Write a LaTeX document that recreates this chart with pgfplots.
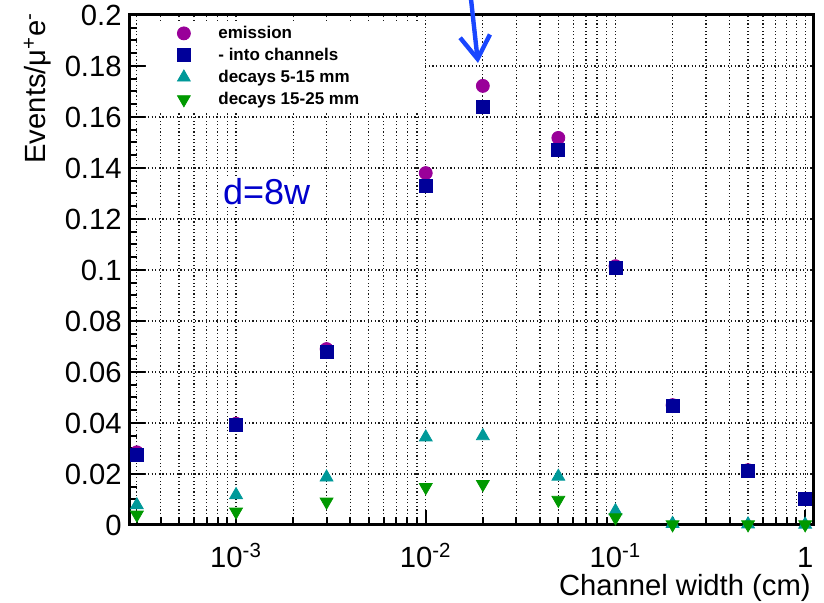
\documentclass[border=0pt]{standalone}
\usepackage{fontspec}
\setmainfont{Liberation Sans}
\usepackage{pgfplots}
\pgfplotsset{compat=1.18}
\usetikzlibrary{arrows.meta}
\definecolor{cem}{RGB}{153,0,153}
\definecolor{cch}{RGB}{0,0,153}
\definecolor{cdone}{RGB}{0,153,153}
\definecolor{cdtwo}{RGB}{0,153,0}
\definecolor{carrow}{RGB}{25,70,255}
\definecolor{ctext}{RGB}{0,0,204}
\begin{document}
\begin{tikzpicture}
\path[use as bounding box] (-65pt,-39pt) rectangle (347pt,262.5pt);
\begin{axis}[
  at={(0,0)}, anchor=south west,
  scale only axis, width=341.5pt, height=255pt,
  xmode=log, xmin=2.76e-4, xmax=1.1, ymin=0, ymax=0.2,
  clip=false,
  axis line style={line width=1.5pt},
  tick style={line width=1pt, black},
  tick align=inside, xtick pos=bottom, ytick pos=left,
  major tick length=7.5pt, minor tick length=3.75pt,
  xtick={1e-3,1e-2,1e-1,1},
  xticklabels={10\textsuperscript{-3},10\textsuperscript{-2},10\textsuperscript{-1},1},
  minor xtick={3e-4,4e-4,5e-4,6e-4,7e-4,8e-4,9e-4,2e-3,3e-3,4e-3,5e-3,6e-3,7e-3,8e-3,9e-3,2e-2,3e-2,4e-2,5e-2,6e-2,7e-2,8e-2,9e-2,0.2,0.3,0.4,0.5,0.6,0.7,0.8,0.9},
  ytick={0,0.02,0.04,0.06,0.08,0.1,0.12,0.14,0.16,0.18,0.2},
  yticklabels={0,0.02,0.04,0.06,0.08,0.1,0.12,0.14,0.16,0.18,0.2},
  minor y tick num=3,
  xmajorgrids, xminorgrids, ymajorgrids,
  major grid style={black!90, line width=0.6pt, dash pattern=on 0.6pt off 1.2pt},
  minor grid style={black!90, line width=0.6pt, dash pattern=on 0.6pt off 1.2pt},
  tick label style={font=\fontsize{14.6}{17}\selectfont},
  xticklabel style={anchor=base, inner sep=0pt, yshift=-21.5pt},
  yticklabel style={anchor=east, inner sep=0pt, xshift=-4pt},
  label style={font=\fontsize{14.6}{17}\selectfont},
  xlabel={Channel width (cm)},
  ylabel={Events/μ\textsuperscript{+}e\textsuperscript{-}},
  xlabel style={at={(axis description cs:0.9971,-0.1392)}, anchor=base east, inner sep=0pt},
  ylabel style={at={(axis description cs:-0.123,1.006)}, anchor=base east, inner sep=0pt},
  legend style={at={(rel axis cs:0.0688,0.9863)}, anchor=north west, draw=none, fill=none,
    font=\fontsize{8.5}{10}\selectfont\bfseries, inner sep=0pt, row sep=0pt,
    nodes={inner sep=0pt, text height=8pt, text depth=3pt},
    /tikz/every odd column/.append style={column sep=14pt}},
  legend cell align=left,
]
\fill[white] (rel axis cs:0.0234,0.8078) rectangle (rel axis cs:0.432,0.9843);
\addplot[only marks, mark=*, mark size=3.25pt, color=cem] coordinates {
  (3e-4,0.0285) (1e-3,0.0397) (3e-3,0.069) (1e-2,0.138) (2e-2,0.1722)
  (5e-2,0.1518) (1e-1,0.1015) (0.2,0.047) (0.5,0.0215) (1,0.0103)};
\addlegendentry{emission}
\addplot[only marks, mark=square*, mark size=3.25pt, color=cch] coordinates {
  (3e-4,0.0275) (1e-3,0.0392) (3e-3,0.0678) (1e-2,0.133) (2e-2,0.164)
  (5e-2,0.147) (1e-1,0.101) (0.2,0.0467) (0.5,0.0212) (1,0.0101)};
\addlegendentry{- into channels}
\addplot[only marks, mark=triangle*, mark size=3.7pt, color=cdone] coordinates {
  (3e-4,0.0078) (1e-3,0.0118) (3e-3,0.0187) (1e-2,0.0344) (2e-2,0.0349)
  (5e-2,0.019) (1e-1,0.0055) (0.2,0.0005) (0.5,0.0003) (1,0.0002)};
\addlegendentry{decays 5-15 mm}
\addplot[only marks, mark=triangle*, mark size=3.7pt, mark options={rotate=180}, color=cdtwo] coordinates {
  (3e-4,0.004) (1e-3,0.0052) (3e-3,0.0091) (1e-2,0.0148) (2e-2,0.016)
  (5e-2,0.0098) (1e-1,0.0029) (0.2,0.0002) (0.5,0.0002) (1,0.0002)};
\addlegendentry{decays 15-25 mm}
\node[anchor=base west, fill=white, inner sep=1pt, text=ctext, font=\fontsize{18}{20}\selectfont]
  at (rel axis cs:0.1328,0.6275) {d=8w};
\draw[carrow, line width=2.2pt, -{Straight Barb[length=11.5pt,width=15pt]}]
  (rel axis cs:0.4969,1.06) -- (rel axis cs:0.5095,0.9059);
\end{axis}
\end{tikzpicture}
\end{document}
